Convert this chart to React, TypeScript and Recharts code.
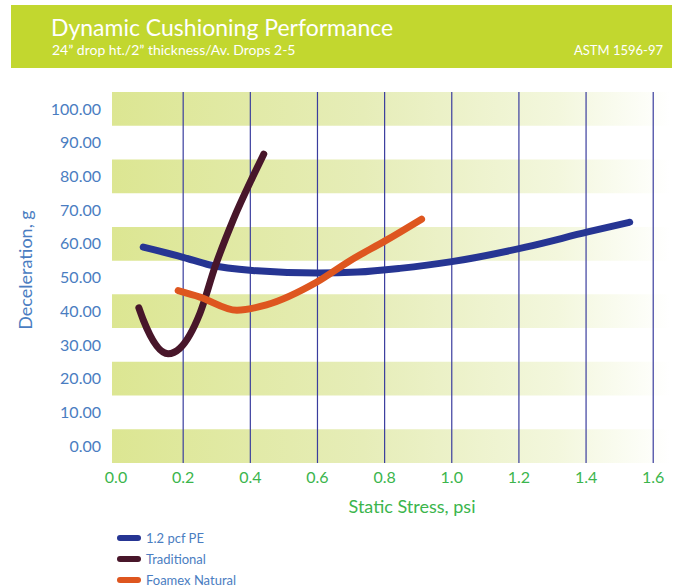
import React from 'react';
import { LineChart, Line, XAxis, YAxis, ReferenceArea, ReferenceLine } from 'recharts';

// Static stress (psi) vs deceleration (g)
const pePoints = [
  { x: 0.081, y: 59.0 },
  { x: 0.2, y: 56.0 },
  { x: 0.28, y: 53.7 },
  { x: 0.42, y: 52.0 },
  { x: 0.6, y: 51.3 },
  { x: 0.72, y: 51.6 },
  { x: 0.845, y: 52.7 },
  { x: 1.0, y: 54.7 },
  { x: 1.22, y: 59.0 },
  { x: 1.405, y: 63.5 },
  { x: 1.53, y: 66.4 },
];

const traditionalPoints = [
  { x: 0.068, y: 41.0 },
  { x: 0.082, y: 37.2 },
  { x: 0.155, y: 27.4 },
  { x: 0.19, y: 29.0 },
  { x: 0.25, y: 39.4 },
  { x: 0.295, y: 53.2 },
  { x: 0.349, y: 67.1 },
  { x: 0.408, y: 80.0 },
  { x: 0.44, y: 86.6 },
];

const foamexPoints = [
  { x: 0.185, y: 46.1 },
  { x: 0.25, y: 44.2 },
  { x: 0.36, y: 40.3 },
  { x: 0.448, y: 41.9 },
  { x: 0.597, y: 48.6 },
  { x: 0.697, y: 55.0 },
  { x: 0.804, y: 61.0 },
  { x: 0.91, y: 67.3 },
];

const xTicks = [0, 0.2, 0.4, 0.6, 0.8, 1.0, 1.2, 1.4, 1.6];
const gridLines = [0.2, 0.4, 0.6, 0.8, 1.0, 1.2, 1.4, 1.6];
const yTicks = [0, 10, 20, 30, 40, 50, 60, 70, 80, 90, 100];
const bandCentres = [0, 20, 40, 60, 80, 100];

const series = [
  { name: '1.2 pcf PE', data: pePoints, color: '#263593' },
  { name: 'Traditional', data: traditionalPoints, color: '#48162a' },
  { name: 'Foamex Natural', data: foamexPoints, color: '#de561f' },
];

const font = 'Lato, "Open Sans", sans-serif';
const tickBlue = '#4a7dc1';
const labelGreen = '#3bb54c';

export default function App() {
  return (
    <div style={{ position: 'absolute', left: 0, top: 0, width: 677, height: 586, background: '#fff', fontFamily: font, overflow: 'hidden' }}>
      <div style={{ position: 'absolute', left: 11, top: 5, width: 661, height: 63, background: '#c2d72f' }} />
      <div style={{ position: 'absolute', left: 51, top: 13, fontSize: 23, color: '#fff', whiteSpace: 'nowrap' }}>
        Dynamic Cushioning Performance
      </div>
      <div style={{ position: 'absolute', left: 52, top: 41, fontSize: 14, color: '#fff', whiteSpace: 'nowrap' }}>
        24” drop ht./2” thickness/Av. Drops 2-5
      </div>
      <div style={{ position: 'absolute', left: 574, top: 42, fontSize: 13, color: '#fff', whiteSpace: 'nowrap' }}>
        ASTM 1596-97
      </div>

      <div style={{ position: 'absolute', left: 0, top: 0 }}>
        <LineChart width={677} height={586} margin={{ top: 92, right: 7, bottom: 93, left: 0 }}>
          <defs>
            <linearGradient id="band" x1="0" y1="0" x2="1" y2="0">
              <stop offset="0%" stopColor="#dce692" />
              <stop offset="45%" stopColor="#e6edb8" />
              <stop offset="80%" stopColor="#f3f7dd" />
              <stop offset="100%" stopColor="#ffffff" />
            </linearGradient>
          </defs>
          {bandCentres.map((c) => (
            <ReferenceArea key={c} y1={c - 5} y2={c + 5} fill="url(#band)" fillOpacity={1} stroke="none" ifOverflow="visible" />
          ))}
          {gridLines.map((g) => (
            <ReferenceLine key={g} x={g} stroke="#3a3d9e" strokeWidth={1.2} />
          ))}
          <XAxis
            type="number"
            dataKey="x"
            domain={[-0.012, 1.65]}
            ticks={xTicks}
            tickFormatter={(v: number) => v.toFixed(1)}
            allowDataOverflow
            axisLine={false}
            tickLine={false}
            tickSize={0}
            tickMargin={9}
            height={30}
            tick={{ fill: labelGreen, fontSize: 16, fontFamily: font }}
          />
          <YAxis
            type="number"
            dataKey="y"
            domain={[-5, 105]}
            ticks={yTicks}
            tickFormatter={(v: number) => v.toFixed(2)}
            allowDataOverflow
            axisLine={false}
            tickLine={false}
            tickSize={0}
            tickMargin={11}
            width={112}
            tick={{ fill: tickBlue, fontSize: 16, fontFamily: font }}
          />
          {series.map((s) => (
            <Line
              key={s.name}
              data={s.data}
              dataKey="y"
              name={s.name}
              type="monotone"
              stroke={s.color}
              strokeWidth={7}
              strokeLinecap="round"
              strokeLinejoin="round"
              dot={false}
              activeDot={false}
              isAnimationActive={false}
            />
          ))}
        </LineChart>
      </div>

      <div
        style={{
          position: 'absolute',
          left: 25 - 80,
          top: 270 - 11,
          width: 160,
          height: 22,
          textAlign: 'center',
          transform: 'rotate(-90deg)',
          fontSize: 18,
          color: tickBlue,
          lineHeight: '22px',
          whiteSpace: 'nowrap',
        }}
      >
        Deceleration, g
      </div>
      <div style={{ position: 'absolute', left: 412 - 90, top: 495, width: 180, textAlign: 'center', fontSize: 18, color: labelGreen, whiteSpace: 'nowrap' }}>
        Static Stress, psi
      </div>

      <div style={{ position: 'absolute', left: 117, top: 527 }}>
        {series.map((s) => (
          <div key={s.name} style={{ display: 'flex', alignItems: 'center', height: 21 }}>
            <div style={{ width: 24, height: 6, borderRadius: 3, background: s.color, marginRight: 5 }} />
            <span style={{ fontSize: 13, lineHeight: '14px', color: tickBlue, whiteSpace: 'nowrap' }}>{s.name}</span>
          </div>
        ))}
      </div>
    </div>
  );
}
